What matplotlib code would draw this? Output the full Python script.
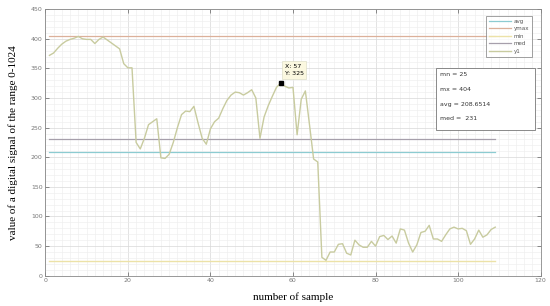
import numpy as np
import matplotlib
matplotlib.use('Agg')
import matplotlib.pyplot as plt
from matplotlib.ticker import MultipleLocator

# signal samples
y1 = [372, 376, 384, 391, 396, 399, 401, 404, 400, 399,
      399, 392, 399, 403, 398, 393, 388, 383, 358, 351,
      351, 225, 214, 232, 255, 260, 265, 199, 198, 205,
      225, 250, 272, 278, 277, 286, 258, 232, 222, 248,
      260, 266, 282, 296, 305, 310, 309, 305, 309, 314,
      300, 232, 268, 287, 303, 318, 325, 320, 317, 318,
      238, 298, 312, 255, 197, 192, 31, 26, 40, 40,
      53, 54, 38, 35, 60, 52, 48, 48, 58, 50,
      66, 68, 61, 67, 55, 79, 77, 55, 40, 52,
      73, 75, 85, 62, 62, 58, 69, 79, 82, 79,
      80, 76, 53, 62, 77, 65, 69, 78, 82]
samples = np.arange(1, len(y1) + 1)

mn = 25
mx = 404
avg = 208.6514
med = 231
tip_x, tip_y = 57, 325

fig = plt.figure(figsize=(5.5, 3.06), dpi=100)
ax = fig.add_axes([0.0824, 0.099, 0.9006, 0.871])

ones = np.ones(len(samples))
ax.plot(samples, avg * ones, color='#8ccbd1', lw=0.9, label='avg')
ax.plot(samples, mx * ones, color='#dcb09a', lw=0.9, label='ymax')
ax.plot(samples, mn * ones, color='#ece2a8', lw=1.0, label='min')
ax.plot(samples, med * ones, color='#a69fab', lw=0.9, label='med')
ax.plot(samples, y1, color='#c8cb9f', lw=1.0, label='y1')

ax.set_xlim(0, 120)
ax.set_ylim(0, 450)
ax.xaxis.set_major_locator(MultipleLocator(20))
ax.xaxis.set_minor_locator(MultipleLocator(2))
ax.yaxis.set_major_locator(MultipleLocator(50))
ax.yaxis.set_minor_locator(MultipleLocator(10))
ax.grid(which='major', color='#d8d8d8', lw=0.5)
ax.grid(which='minor', color='#ededed', lw=0.4)
ax.set_axisbelow(True)
ax.tick_params(which='major', direction='in', length=3, width=0.6,
               labelsize=4.5, labelcolor='#777777', color='#777777',
               top=True, right=True, pad=2)
ax.tick_params(which='minor', length=0)
for s in ax.spines.values():
    s.set_color('#888888')
    s.set_linewidth(0.6)

serif = ['Liberation Serif', 'DejaVu Serif']
ax.set_xlabel('number of sample', family=serif, fontsize=8, labelpad=6)
ax.set_ylabel('value of a digital signal of the range 0-1024', family=serif,
              fontsize=8, labelpad=9)

# data tip
ax.plot([tip_x], [tip_y], marker='s', color='black', ms=3.5)
ax.annotate('X: %d\nY: %d' % (tip_x, tip_y), xy=(tip_x, tip_y),
            xytext=(3, 5), textcoords='offset points', fontsize=4.5,
            va='bottom', ha='left', linespacing=1.6,
            bbox=dict(boxstyle='square,pad=0.4', fc='#fbf8e0', ec='#d8d8c0', lw=0.4))

# stats box
box = plt.Rectangle((0.7895, 0.545), 0.1985, 0.233, transform=ax.transAxes,
                    fc='white', ec='#777777', lw=0.6, zorder=5)
ax.add_patch(box)
stats = ['mn = %d' % mn, 'mx = %d' % mx, 'avg = %.4f' % avg, 'med =  %d' % med]
for i, s in enumerate(stats):
    ax.text(0.797, 0.755 - i * 0.0555, s, transform=ax.transAxes,
            fontsize=4.5, color='#333333', va='center', zorder=6)

leg = ax.legend(loc='upper right', bbox_to_anchor=(0.9885, 0.985), fontsize=4,
                handlelength=4.0, frameon=True, fancybox=False,
                borderpad=0.5, labelspacing=0.45, handletextpad=0.5)
leg.get_frame().set_edgecolor('#777777')
leg.get_frame().set_linewidth(0.6)
for t in leg.get_texts():
    t.set_color('#555555')

fig.savefig('out.png', dpi=100)
